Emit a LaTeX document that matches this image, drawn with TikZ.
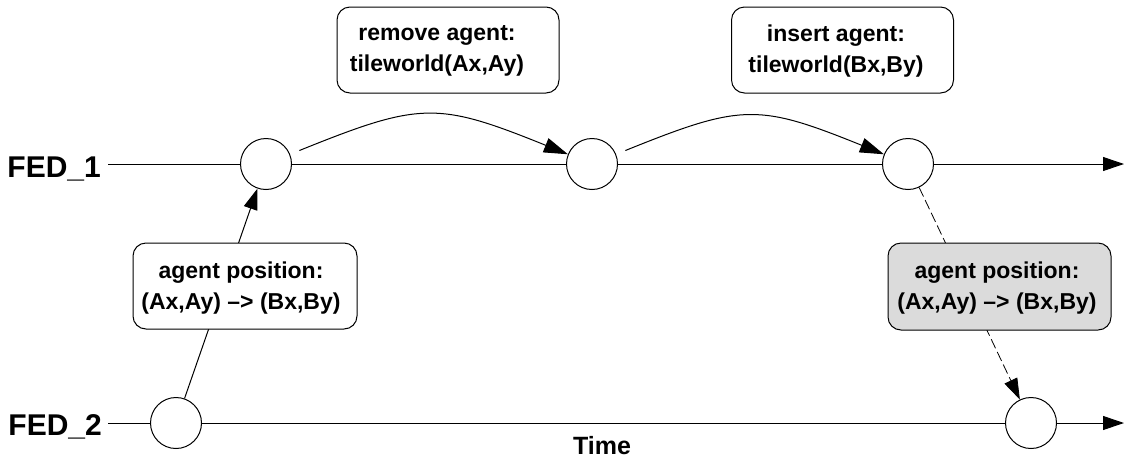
\documentclass[tikz,border=0pt]{standalone}
\usepackage{fontspec}
\setmainfont{Liberation Sans}
\usetikzlibrary{arrows.meta}
\begin{document}
\begin{tikzpicture}[x=1pt,y=-1pt,
  evt/.style={circle,draw,line width=1pt,minimum size=51pt,inner sep=0pt,fill=white},
  msgbox/.style={draw,rounded corners=13pt,line width=1pt,minimum width=222pt,
    minimum height=86pt,inner sep=0pt,fill=white},
  boxtext/.style={align=center,font=\fontsize{23}{31}\selectfont\bfseries,inner sep=0pt},
  fedlabel/.style={font=\fontsize{30}{36}\selectfont\bfseries,inner sep=0pt,anchor=base east},
  tip/.style={-{Triangle[length=21pt,width=14pt]}},
  bigtip/.style={-{Triangle[length=24pt,width=15pt]}},
  conn/.style={line width=1pt},
  ]
\useasboundingbox (0,0) rectangle (1124,464);

% federate labels and line ends
\node[fedlabel] (fed1) at (101,177) {FED\_1};
\node[fedlabel] (fed2) at (102,435) {FED\_2};
\coordinate (f1s) at (108,164);
\coordinate (f1e) at (1124,164);
\coordinate (f2s) at (108,423);
\coordinate (f2e) at (1124,423);

% events on the time lines
\node[evt] (c1) at (266,164) {};
\node[evt] (c2) at (592,164) {};
\node[evt] (c3) at (908,164) {};
\node[evt] (c5) at (176,423) {};
\node[evt] (c6) at (1031,423) {};

% time lines
\draw[conn] (f1s) -- (c1);
\draw[conn] (c1) -- (c2);
\draw[conn] (c2) -- (c3);
\draw[conn,tip] (c3) -- (f1e);
\draw[conn] (f2s) -- (c5);
\draw[conn] (c5) -- (c6);
\draw[conn,tip] (c6) -- (f2e);

% messages
\draw[conn,bigtip,shorten <=10pt] (c1) to[out=22,in=158,looseness=1.3] (c2);
\draw[conn,bigtip,shorten <=10pt] (c2) to[out=22,in=158,looseness=1.3] (c3);
\draw[conn,tip] (c5) -- (c1);
\draw[line width=0.8pt,dash pattern=on 10pt off 4pt,tip] (c3) -- (c6);

% message boxes
\node[msgbox] (rm) at (448,50) {};
\node[boxtext] (rmt) at (437,51) {remove agent:\\tileworld(Ax,Ay)};
\node[msgbox] (ins) at (842.5,50) {};
\node[boxtext] (inst) at (836,51) {insert agent:\\tileworld(Bx,By)};
\node[msgbox,minimum width=224pt] (pos1) at (245,286) {};
\node[boxtext] (pos1t) at (241,288) {agent position:\\(Ax,Ay) –> (Bx,By)};
\node[msgbox,fill=black!14,minimum width=223pt,minimum height=87pt] (pos2) at (999.5,286.5) {};
\node[boxtext] (pos2t) at (997,288) {agent position:\\(Ax,Ay) –> (Bx,By)};

% axis caption
\node[font=\fontsize{25}{30}\selectfont\bfseries,inner sep=0pt] (time) at (602,446) {Time};
\end{tikzpicture}
\end{document}
